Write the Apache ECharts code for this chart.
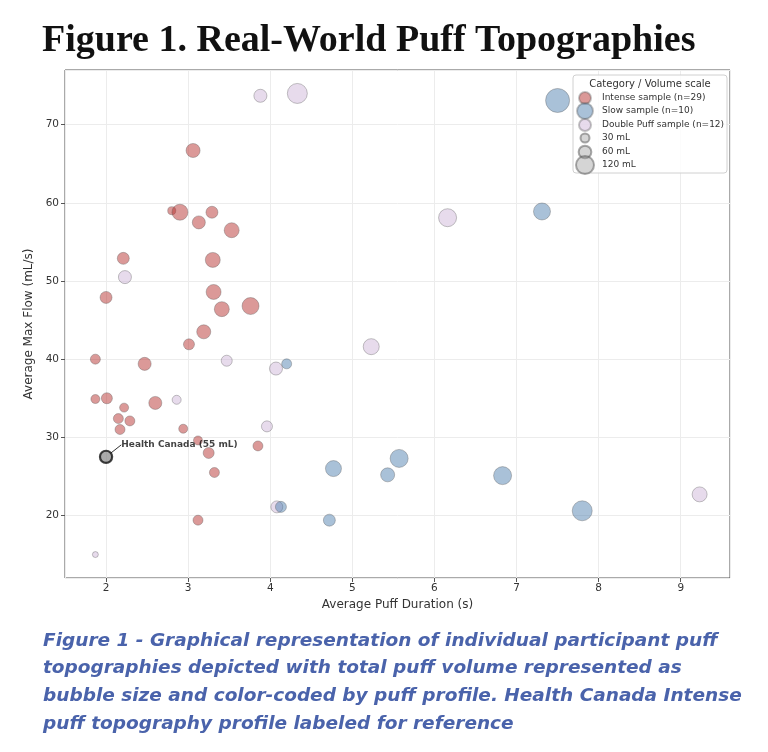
<!DOCTYPE html>
<html>
<head>
<meta charset="utf-8">
<script src="https://cdn.jsdelivr.net/npm/echarts@6/dist/echarts.min.js"></script>
<style>
  html, body { margin: 0; padding: 0; background: #fff; }
  #chart { width: 768px; height: 752px; }
</style>
</head>
<body>
<div id="chart"></div>
<script>
// Intense sample (n=29): duration (s), max flow (mL/s), total volume (mL)
var intenseDur  = [2.80, 2.90, 3.29, 3.13, 3.53, 2.21, 3.30, 2.00, 3.31, 3.41, 3.76, 3.19, 3.01, 3.06, 1.87,
                   2.47, 1.87, 2.01, 2.60, 2.22, 2.15, 2.29, 2.17, 2.94, 3.12, 3.25, 3.85, 3.32, 3.12];
var intenseFlow = [59.0, 58.8, 58.8, 57.5, 56.5, 52.9, 52.7, 47.9, 48.6, 46.4, 46.8, 43.5, 41.9, 66.7, 40.0,
                   39.4, 34.9, 35.0, 34.4, 33.8, 32.4, 32.1, 31.0, 31.1, 29.6, 28.0, 28.9, 25.5, 19.4];
var intenseVol  = [24, 95, 53, 63, 83, 53, 83, 53, 83, 83, 107, 73, 45, 73, 37,
                   63, 30, 45, 63, 30, 37, 37, 37, 30, 30, 45, 37, 37, 37];

// Slow sample (n=10)
var slowDur  = [4.20, 4.13, 7.50, 7.31, 4.77, 5.57, 5.43, 6.83, 7.80, 4.72];
var slowFlow = [39.4, 21.1, 73.1, 58.9, 26.0, 27.3, 25.2, 25.1, 20.6, 19.4];
var slowVol  = [37, 45, 213, 107, 95, 120, 73, 120, 148, 53];

// Double Puff sample (n=12)
var doubleDur  = [2.23, 3.47, 4.07, 2.86, 3.96, 4.08, 1.87, 3.88, 4.33, 6.16, 5.23, 9.23];
var doubleFlow = [50.5, 39.8, 38.8, 34.8, 31.4, 21.1, 15.0, 73.7, 74.0, 58.1, 41.6, 22.7];
var doubleVol  = [63, 45, 63, 30, 45, 53, 13, 63, 148, 120, 95, 83];

// Health Canada Intense reference profile
var hcPoint = [2.0, 27.5, 55];
var hcLabel = 'Health Canada (55 mL)';

var legendVolumes = [30, 60, 120];
var legendTitle = 'Category / Volume scale';
var titleText = 'Figure 1. Real-World Puff Topographies';
var captionLines = [
    'Figure 1 - Graphical representation of individual participant puff',
    'topographies depicted with total puff volume represented as',
    'bubble size and color-coded by puff profile. Health Canada Intense',
    'puff topography profile labeled for reference'
];

var SIZE_K = 1.643; // diameter px per sqrt(mL)
var volSize = function(v){ return SIZE_K * Math.sqrt(v); };

var zip = function(xs, ys, vs){
    return xs.map(function(x, i){ return [x, ys[i], vs[i]]; });
};

var EDGE = 'rgba(90,90,90,0.45)';
var FONT = 'DejaVu Sans';

var makeSeries = function(name, data, color){
    return {
        name: name,
        type: 'scatter',
        data: data,
        symbolSize: function(val){ return volSize(val[2]); },
        itemStyle: { color: color, borderColor: EDGE, borderWidth: 1 },
        emphasis: { disabled: true }
    };
};

var catNames = ['Intense sample (n=29)', 'Slow sample (n=10)', 'Double Puff sample (n=12)'];
var catColors = ['rgba(180,42,40,0.6)', 'rgba(70,120,170,0.58)', 'rgba(205,180,215,0.6)'];
var catIcon = [12, 16, 12];

var series = [
    makeSeries(catNames[0], zip(intenseDur, intenseFlow, intenseVol), catColors[0]),
    makeSeries(catNames[2], zip(doubleDur, doubleFlow, doubleVol), catColors[2]),
    makeSeries(catNames[1], zip(slowDur, slowFlow, slowVol), catColors[1])
];

legendVolumes.forEach(function(v){
    var s = makeSeries(v + ' mL', [], 'rgba(150,150,150,0.5)');
    s.itemStyle.borderColor = 'rgba(80,80,80,0.6)';
    series.push(s);
});

series.push({
    name: 'Health Canada',
    type: 'scatter',
    data: [hcPoint],
    symbolSize: function(val){ return volSize(val[2]); },
    itemStyle: { color: 'rgba(130,130,130,0.85)', borderColor: '#111', borderWidth: 2.2 },
    z: 5,
    label: {
        show: true,
        position: 'right',
        formatter: hcLabel,
        fontFamily: FONT,
        fontSize: 9,
        fontWeight: 'bold',
        color: '#111'
    },
    labelLayout: { dx: 3, dy: -12 },
    labelLine: { show: true, lineStyle: { color: '#333', width: 1 } },
    emphasis: { disabled: true }
});

// legend rows: one legend component per entry so each icon can have its own size
var rowY = [97, 110, 124, 138, 151, 164];
var legendNames = catNames.concat(legendVolumes.map(function(v){ return v + ' mL'; }));
var legendSizes = catIcon.concat(legendVolumes.map(volSize));
var legends = legendNames.map(function(n, i){
    var d = legendSizes[i];
    return {
        data: [n],
        icon: 'circle',
        itemWidth: d,
        itemHeight: d,
        left: 584 - d / 2,
        top: rowY[i] - Math.max(d, 11) / 2,
        padding: 0,
        selectedMode: false,
        z: 10,
        textStyle: { fontFamily: FONT, fontSize: 9, color: '#333', padding: [0, 0, 0, 12 - d / 2] }
    };
});

var option = {
    backgroundColor: '#fff',
    animation: false,
    title: [
        {
            text: titleText,
            left: 37,
            top: 17,
            textStyle: { fontFamily: 'Liberation Serif', fontSize: 38, fontWeight: 'bold', color: '#111' }
        },
        {
            text: captionLines.join('\n'),
            left: 38,
            top: 622,
            textStyle: {
                fontFamily: 'DejaVu Sans', fontSize: 18.5, fontWeight: 'bold', fontStyle: 'italic',
                color: '#4a63ab', lineHeight: 27.7
            }
        }
    ],
    legend: legends,
    graphic: [
        {
            type: 'rect',
            shape: { x: 573, y: 75, width: 154, height: 98, r: 3 },
            style: { fill: 'rgba(255,255,255,0.85)', stroke: '#d0d0d0', lineWidth: 1 },
            z: 3
        },
        {
            type: 'text',
            x: 650, y: 84,
            style: { text: legendTitle, fontFamily: FONT, fontSize: 10, fill: '#333', align: 'center', verticalAlign: 'middle' },
            z: 4
        }
    ],
    grid: {
        left: 65, right: 38, top: 70, bottom: 174,
        show: true, borderColor: '#555', borderWidth: 1
    },
    xAxis: {
        type: 'value',
        min: 1.5, max: 9.6,
        splitNumber: 8,
        name: 'Average Puff Duration (s)',
        nameLocation: 'middle',
        nameGap: 21,
        nameTextStyle: { fontFamily: FONT, fontSize: 12, color: '#333' },
        axisLine: { show: false },
        axisTick: { show: true, length: 4, lineStyle: { color: '#555' } },
        axisLabel: { fontFamily: FONT, fontSize: 10.5, color: '#333', margin: 5, showMinLabel: false, showMaxLabel: false },
        splitLine: { show: true, lineStyle: { color: '#ececec', width: 1 } }
    },
    yAxis: {
        type: 'value',
        min: 12, max: 77,
        splitNumber: 6,
        name: 'Average Max Flow (mL/s)',
        nameLocation: 'middle',
        nameGap: 24,
        nameTextStyle: { fontFamily: FONT, fontSize: 12, color: '#333' },
        axisLine: { show: false },
        axisTick: { show: true, length: 4, lineStyle: { color: '#555' } },
        axisLabel: { fontFamily: FONT, fontSize: 10.5, color: '#333', margin: 6, showMinLabel: false, showMaxLabel: false },
        splitLine: { show: true, lineStyle: { color: '#ececec', width: 1 } }
    },
    series: series
};

var chart = echarts.init(document.getElementById('chart'));
chart.setOption(option);
</script>
</body>
</html>
